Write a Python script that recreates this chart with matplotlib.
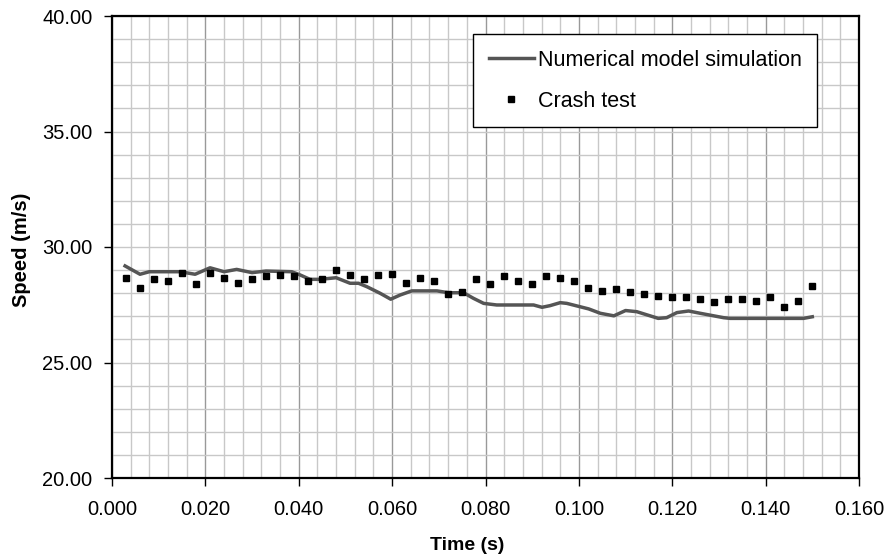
import matplotlib

matplotlib.use("Agg")
import matplotlib.pyplot as plt
from matplotlib.ticker import MultipleLocator, FormatStrFormatter
import numpy as np

# Crash test measurements (every 0.003 s)
crash_t = [0.003 * k for k in range(1, 51)]
crash_v = [28.67, 28.24, 28.60, 28.53, 28.89, 28.39, 28.86, 28.67, 28.45, 28.60,
           28.74, 28.80, 28.74, 28.53, 28.60, 29.02, 28.80, 28.60, 28.80, 28.82,
           28.45, 28.67, 28.53, 27.97, 28.04, 28.60, 28.39, 28.74, 28.53, 28.39,
           28.74, 28.67, 28.53, 28.24, 28.11, 28.18, 28.04, 27.97, 27.89, 27.82,
           27.82, 27.75, 27.60, 27.75, 27.75, 27.68, 27.82, 27.40, 27.68, 28.32]

# Numerical model simulation
sim_t = [0.0028, 0.0060, 0.0080, 0.0145, 0.0178, 0.0210, 0.0240, 0.0267, 0.0300,
         0.0330, 0.0385, 0.0403, 0.0424, 0.0446, 0.0480, 0.0510, 0.0528, 0.0546,
         0.0574, 0.0597, 0.0617, 0.0642, 0.0696, 0.0721, 0.0753, 0.0774, 0.0796,
         0.0824, 0.0903, 0.0921, 0.0938, 0.0960, 0.0974, 0.1021, 0.1046, 0.1075,
         0.1100, 0.1124, 0.1170, 0.1188, 0.1210, 0.1235, 0.1260, 0.1310, 0.1324,
         0.1481, 0.1500]
sim_v = [29.18, 28.82, 28.93, 28.93, 28.82, 29.10, 28.93, 29.03, 28.89,
         28.96, 28.93, 28.79, 28.60, 28.60, 28.67, 28.43, 28.43, 28.28,
         28.00, 27.74, 27.92, 28.10, 28.10, 28.02, 28.02, 27.78, 27.56,
         27.49, 27.49, 27.39, 27.46, 27.59, 27.56, 27.32, 27.13, 27.02,
         27.25, 27.20, 26.91, 26.94, 27.16, 27.23, 27.13, 26.94, 26.91,
         26.91, 26.98]

plt.rcParams["font.family"] = ["Liberation Sans", "DejaVu Sans"]

fig = plt.figure(figsize=(8.85, 5.58), dpi=100)
ax = fig.add_axes([112 / 885, 80 / 558, 747 / 885, 462 / 558])

ax.plot(sim_t, sim_v, color="#555555", lw=2.5, label="Numerical model simulation", zorder=3)
ax.plot(crash_t, crash_v, ls="none", marker="s", ms=4.6, color="black",
        label="Crash test", zorder=4)

ax.set_xlim(0, 0.16)
ax.set_ylim(20, 40)
ax.xaxis.set_major_locator(MultipleLocator(0.02))
ax.xaxis.set_minor_locator(MultipleLocator(0.004))
ax.yaxis.set_major_locator(MultipleLocator(5))
ax.yaxis.set_minor_locator(MultipleLocator(1))
ax.xaxis.set_major_formatter(FormatStrFormatter("%.3f"))
ax.yaxis.set_major_formatter(FormatStrFormatter("%.2f"))

# grid: darker vertical majors, light everything else
ax.grid(axis="x", which="major", color="#999999", lw=1.0)
ax.grid(axis="x", which="minor", color="#c8c8c8", lw=1.0)
ax.grid(axis="y", which="both", color="#c8c8c8", lw=1.0)
ax.set_axisbelow(True)

ax.tick_params(which="major", length=6, width=1, labelsize=14.5, color="black")
ax.tick_params(which="minor", length=0)
ax.tick_params(axis="x", pad=10)
ax.tick_params(axis="y", pad=8)

for spine in ax.spines.values():
    spine.set_color("black")
    spine.set_linewidth(1.6)

ax.set_xlabel("Time (s)", fontsize=14, fontweight="bold", va="center", ha="center")
ax.set_ylabel("Speed (m/s)", fontsize=14.5, fontweight="bold", va="center", ha="center")
ax.xaxis.set_label_coords((467 - 112) / 747, -(545 - 478) / 462)
ax.yaxis.set_label_coords((22 - 112) / 747, (478 - 250) / 462)

leg = ax.legend(loc="upper left", bbox_to_anchor=(473 / 885, 1 - 34 / 558),
                bbox_transform=fig.transFigure, borderaxespad=0, fancybox=False,
                framealpha=1, edgecolor="black", fontsize=15.5, numpoints=1,
                handlelength=2.1, handletextpad=0.2, labelspacing=0.95,
                borderpad=0.72)
leg.get_frame().set_linewidth(1.0)

fig.savefig("out.png", dpi=100)
